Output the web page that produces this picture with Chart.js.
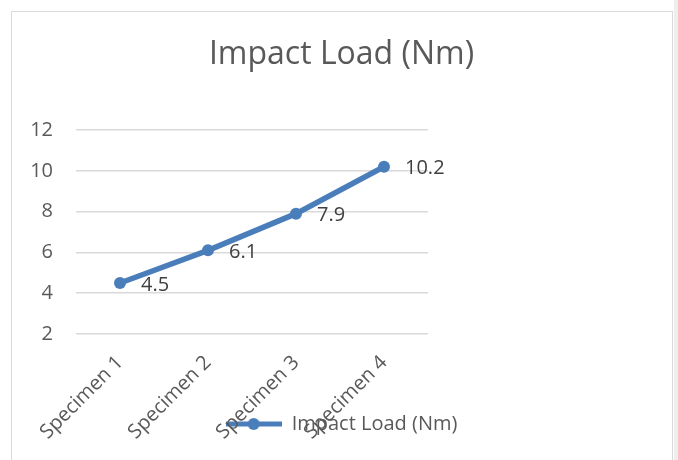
<!DOCTYPE html>
<html>
<head>
<meta charset="utf-8">
<script src="https://cdn.jsdelivr.net/npm/chart.js@4/dist/chart.umd.min.js"></script>
<style>
    html, body { margin: 0; padding: 0; background: #fff; }
    #wrap { position: relative; width: 678px; height: 460px; overflow: hidden; }
    #frame { position: absolute; left: 11px; top: 11px; width: 660px; height: 470px; border: 1px solid #d9d9d9; }
    #edge { position: absolute; left: 674px; top: 0; width: 4px; height: 460px; background: #eeeeee; }
    canvas { position: absolute; left: 0; top: 0; }
</style>
</head>
<body>
<div id="wrap">
    <div id="frame"></div>
    <div id="edge"></div>
    <canvas id="impactChart" width="678" height="460"></canvas>
</div>
<script>
// Dati del grafico
const categories = ['Specimen 1', 'Specimen 2', 'Specimen 3', 'Specimen 4'];
const impactLoad = [4.5, 6.1, 7.9, 10.2];
const yTicks = [2, 4, 6, 8, 10, 12];

const seriesName = 'Impact Load (Nm)';
const textColor = '#595959';
const lineColor = '#4a7ebb';
const fontFamily = '"Open Sans", "Liberation Sans", sans-serif';

// Icona della legenda: linea con marcatore
function makeLegendIcon() {
    const c = document.createElement('canvas');
    c.width = 56;
    c.height = 14;
    const g = c.getContext('2d');
    g.strokeStyle = lineColor;
    g.lineWidth = 5;
    g.beginPath();
    g.moveTo(0, 7);
    g.lineTo(56, 7);
    g.stroke();
    g.fillStyle = lineColor;
    g.beginPath();
    g.arc(28, 7, 6, 0, Math.PI * 2);
    g.fill();
    return c;
}

// Etichette dei valori a destra dei punti
const valueLabels = {
    id: 'valueLabels',
    afterDatasetsDraw(chart) {
        const ctx = chart.ctx;
        const meta = chart.getDatasetMeta(0);
        ctx.save();
        ctx.font = '20px ' + fontFamily;
        ctx.fillStyle = '#404040';
        ctx.textAlign = 'left';
        ctx.textBaseline = 'middle';
        meta.data.forEach((pt, i) => {
            ctx.fillText(String(impactLoad[i]), pt.x + 21, pt.y + 2);
        });
        ctx.restore();
    }
};

// Le etichette dell'asse x si sovrappongono alla legenda: estendi l'area di clip
const unclipX = {
    id: 'unclipX',
    afterLayout(chart) {
        chart.scales.x.bottom = chart.height;
    }
};

const ctx = document.getElementById('impactChart').getContext('2d');
new Chart(ctx, {
    type: 'line',
    data: {
        labels: categories,
        datasets: [{
            label: seriesName,
            data: impactLoad,
            borderColor: lineColor,
            backgroundColor: lineColor,
            borderWidth: 5.5,
            pointRadius: 6,
            pointHoverRadius: 6,
            pointBackgroundColor: lineColor,
            pointBorderWidth: 0,
            tension: 0,
            fill: false
        }]
    },
    options: {
        responsive: false,
        animation: false,
        layout: {
            padding: { top: 11, left: 11, right: 6, bottom: 16 }
        },
        scales: {
            x: {
                offset: true,
                grid: { display: false },
                border: { display: false },
                ticks: {
                    color: textColor,
                    font: { family: fontFamily, size: 20 },
                    minRotation: 45,
                    maxRotation: 45,
                    padding: 9
                },
                afterFit(scale) { scale.height = 70; }
            },
            y: {
                min: 2,
                max: 12,
                grid: { color: '#d9d9d9', lineWidth: 1.5, drawTicks: false },
                border: { display: false },
                afterBuildTicks(scale) {
                    scale.ticks = yTicks.map(v => ({ value: v }));
                },
                ticks: {
                    color: textColor,
                    font: { family: fontFamily, size: 20 },
                    padding: 23
                },
                afterFit(scale) { scale.width = 65; }
            },
            spacer: {
                position: 'right',
                min: 2,
                max: 12,
                grid: { display: false },
                border: { display: false },
                ticks: { display: false },
                afterFit(scale) { scale.width = 244; }
            }
        },
        plugins: {
            title: {
                display: true,
                text: seriesName,
                color: textColor,
                font: { family: fontFamily, size: 32, weight: 'normal' },
                padding: { top: 24.8, bottom: 55.8 }
            },
            legend: {
                position: 'bottom',
                labels: {
                    color: textColor,
                    font: { family: fontFamily, size: 20 },
                    usePointStyle: true,
                    pointStyle: makeLegendIcon(),
                    pointStyleWidth: 56,
                    padding: 10
                }
            },
            tooltip: { enabled: false }
        }
    },
    plugins: [valueLabels, unclipX]
});
</script>
</body>
</html>
